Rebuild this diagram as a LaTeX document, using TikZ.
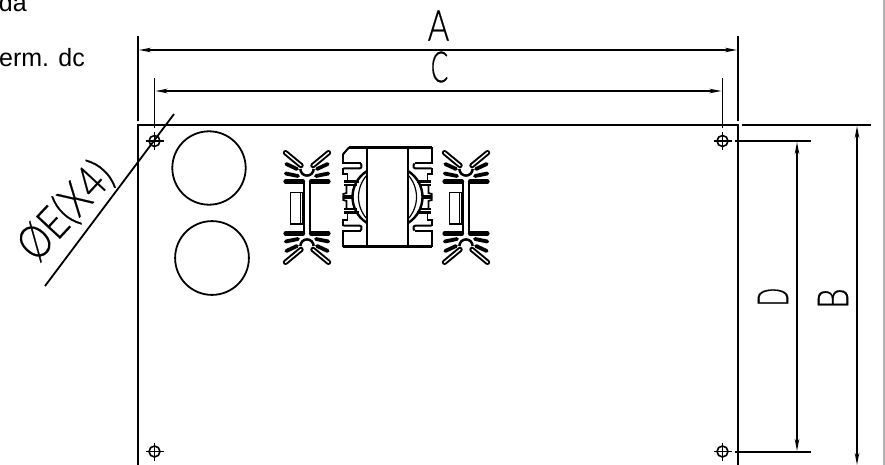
\documentclass[tikz,border=0pt]{standalone}
\usepackage{fontspec}
\setmainfont{Liberation Sans}
\newfontfamily\dimfont[FakeBold=0.5]{Lato Light}
\usetikzlibrary{arrows.meta}
\tikzset{
    %Define standard arrow tip
    >={Stealth[length=12pt,width=4.5pt]},
    %Define style for the drawing lines
    outline/.style={draw=black, line width=1.8pt},
    dimline/.style={draw=black, line width=1.8pt, <->},
    extline/.style={draw=black, line width=1.8pt},
    %Define style for the letters of the dimensions
    dimtext/.style={font=\dimfont\fontsize{43}{43}\selectfont, inner sep=0pt, transform shape},
    notetext/.style={font=\fontsize{25}{25}\selectfont, inner sep=0pt, anchor=base east},
}
% mounting hole with its cross
\newcommand{\mounthole}[1]{
  \draw[line width=1.6pt] (#1) circle (5.5);
  \draw[line width=1.6pt] ([xshift=-9]#1) -- ([xshift=9]#1) ([yshift=-9]#1) -- ([yshift=9]#1);
}
% one fin: black stroke with a white core
\newcommand{\fin}[1]{
  \draw[line width=5.4pt, line cap=round] #1;
  \draw[white, line width=1.4pt, line cap=round] #1;
}
% heat sink, drawn from its centre
\newcommand{\heatsink}[1]{
\begin{scope}[shift={(#1)}]
  \foreach \sx in {-1,1} \foreach \sy in {-1,1} {
    \begin{scope}[xscale=\sx, yscale=\sy]
      \fin{(21.5,54.8) -- (6,42)}
      \draw[line width=3.8pt, line cap=round] (20.7,43.5) -- (10,38.5);
      \draw[line width=3.8pt, line cap=round] (21.3,34) -- (9,31.5);
      \draw[line width=4.2pt, line cap=round] (21.5,26) -- (4,26);
      \draw[line width=2pt] (2.6,26) -- (2.6,0);
      \draw[line width=2.2pt] (6.6,38.5) arc[start angle=0, end angle=-180, radius=6.6];
    \end{scope}
  }
  \draw[line width=1.8pt] (-16.5,-15) rectangle (-4,16.5);
  \draw[line width=1.8pt] (-6.5,-15) -- (-6.5,16.5);
\end{scope}
}
\begin{document}
\begin{tikzpicture}[x=1pt,y=-1pt]
\useasboundingbox (0,0) rectangle (885,465);
\draw[gray!60, line width=1.6pt] (884,0) -- (884,465);
% named points of the plate
\coordinate (tl) at (138,125);
\coordinate (tr) at (738,125);
\coordinate (bl) at (138,465);
\coordinate (br) at (738,465);
\coordinate (holeTL) at (154.5,141);
\coordinate (holeTR) at (722.5,141);
\coordinate (holeBL) at (154.5,451.5);
\coordinate (holeBR) at (722.5,451.5);
% notes cut by the page edge
\node[notetext] (noteA) at (27,12) {da};
\node[notetext] (noteB) at (85,67) {erm. dc};
% plate
\draw[line width=2pt] (bl) -- (tl) -- (tr) -- (br);
\draw[line width=2pt] (742,125) -- (871,125);
\foreach \h in {holeTL,holeTR,holeBL,holeBR} {\mounthole{\h}}
% openings
\draw[outline] (209,168) circle (36.7);
\draw[outline] (212,258) circle (36.9);
% dimension A
\coordinate (aL) at (138,36);
\coordinate (aR) at (738,36);
\draw[extline] (aL) -- (138,121);
\draw[extline] (aR) -- (738,121);
\draw[dimline] (139,50) -- (737,50);
\node[dimtext, xscale=.76] (lblA) at (438.5,25.5) {A};
% dimension C
\coordinate (cL) at (154.5,78);
\coordinate (cR) at (722.5,78);
\draw[extline] (cL) -- (154.5,128);
\draw[extline] (cR) -- (722.5,128);
\draw[dimline] (155.5,91) -- (721.5,91);
\node[dimtext, xscale=.6] (lblC) at (439.5,67) {C};
% dimension D
\draw[extline] (735,141) -- (811,141);
\draw[extline] (735,452) -- (811,452);
\draw[dimline] (797,142) -- (797,451);
\node[dimtext, rotate=90, xscale=.55] (lblD) at (773,297) {D};
% dimension B
\draw[dimline] (857,126) -- (857,465);
\node[dimtext, rotate=90, xscale=.75] (lblB) at (833,298.5) {B};
% dimension E
\coordinate (eA) at (174,114);
\coordinate (eB) at (45,286);
\draw[extline] (eA) -- (eB);
\node[dimtext, rotate=47, font=\dimfont\fontsize{46}{46}\selectfont, xscale=.82] (lblE) at (66,211) {ØE(X4)};
% heat sinks
\heatsink{307,207.5}
\heatsink{466,207.5}
% transformer
\begin{scope}[shift={(387.5,197)}]
  \foreach \sx in {-1,1} \foreach \sy in {-1,1} {
    \begin{scope}[xscale=\sx, yscale=\sy]
      \draw[line width=2pt] (-44.2,-49.6) -- (-44.2,-33.5) -- (-27,-33.5);
      \draw[line width=2pt, rounded corners=1pt] (-27,-33.5) -- (-25.5,-31) -- (-27,-28.5) -- (-44.2,-28.5);
      \draw[line width=1.8pt] (-44.2,-28.5) -- (-44.2,-23) -- (-40,-23) -- (-40,-15.5);
      \draw[line width=2.4pt] (-43.5,-15.5) -- (-29,-15.5) (-43.5,-12) -- (-31,-12);
      \draw[line width=1.8pt] (-41,-12) -- (-41,-4) -- (-44.2,-3) -- (-44.2,0);
      \draw[line width=1.8pt] (-44.2,-1) -- (-35,-1);
      \draw[line width=2.4pt] (-20.5,-26) .. controls (-30,-20) and (-35,-10) .. (-35,0);
      \draw[line width=1.2pt] (-20.5,-22) .. controls (-26,-16) and (-29,-8) .. (-29,0);
    \end{scope}
  }
  \draw[line width=2.4pt] (-38.5,-49.6) -- (44.2,-49.6) (-44.2,49.6) -- (44.2,49.6);
  \draw[line width=2.6pt] (-20.5,-49.6) -- (-20.5,49.6) (20.5,-49.6) -- (20.5,49.6);
  \fill[white] (-45.5,-51) -- (-38.5,-51) -- (-45.5,-43) -- cycle;
  \draw[line width=2pt] (-38.5,-49.6) -- (-44.2,-43);
\end{scope}
\end{tikzpicture}
\end{document}
